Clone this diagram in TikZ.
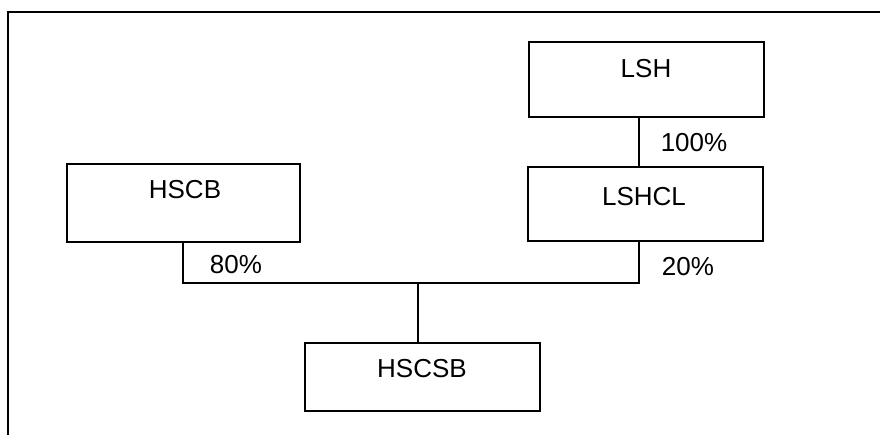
\documentclass[tikz,border=0pt]{standalone}
\usepackage{fontspec}
\setmainfont{Liberation Sans}
\begin{document}
\begin{tikzpicture}[x=1pt,y=-1pt,
  box/.style={draw=black,line width=2.4pt,minimum width=#1,inner sep=0pt},
  txt/.style={font=\fontsize{26}{30}\selectfont,inner sep=0pt},
  conn/.style={draw=black,line width=2.4pt},
  frame/.style={draw=black,line width=2.4pt}]
\useasboundingbox (0,0) rectangle (880,435);
% frame (top and left edges only)
\coordinate (fTL) at (8,12);
\coordinate (fTR) at (880,12);
\coordinate (fBL) at (8,435);
\draw[frame] (fTR) -- (fTL) -- (fBL);
% boxes
\node[box=235pt,minimum height=75pt] (lsh) at (646.5,79.5) {};
\node[box=235pt,minimum height=74pt] (lshcl) at (645.5,204) {};
\node[box=233pt,minimum height=78pt] (hscb) at (183.5,203) {};
\node[box=235pt,minimum height=68pt] (hscsb) at (422.5,377) {};
% box labels
\node[txt] (lshT) at (646,69) {LSH};
\node[txt] (lshclT) at (644,197) {LSHCL};
\node[txt] (hscbT) at (185,190) {HSCB};
\node[txt] (hscsbT) at (422,369) {HSCSB};
% junction points
\coordinate (jL) at (183,283);
\coordinate (jR) at (639,283);
\coordinate (jM) at (418,283);
% connectors
\draw[conn] (lsh.south -| jR) -- (lshcl.north -| jR);
\draw[conn] (hscb.south -| jL) -- (jL) -- (jR) -- (lshcl.south -| jR);
\draw[conn] (jM) -- (hscsb.north -| jM);
% percentages
\node[txt] (p100) at (694,143) {100\%};
\node[txt] (p80) at (236,265) {80\%};
\node[txt] (p20) at (688,267) {20\%};
\end{tikzpicture}
\end{document}
